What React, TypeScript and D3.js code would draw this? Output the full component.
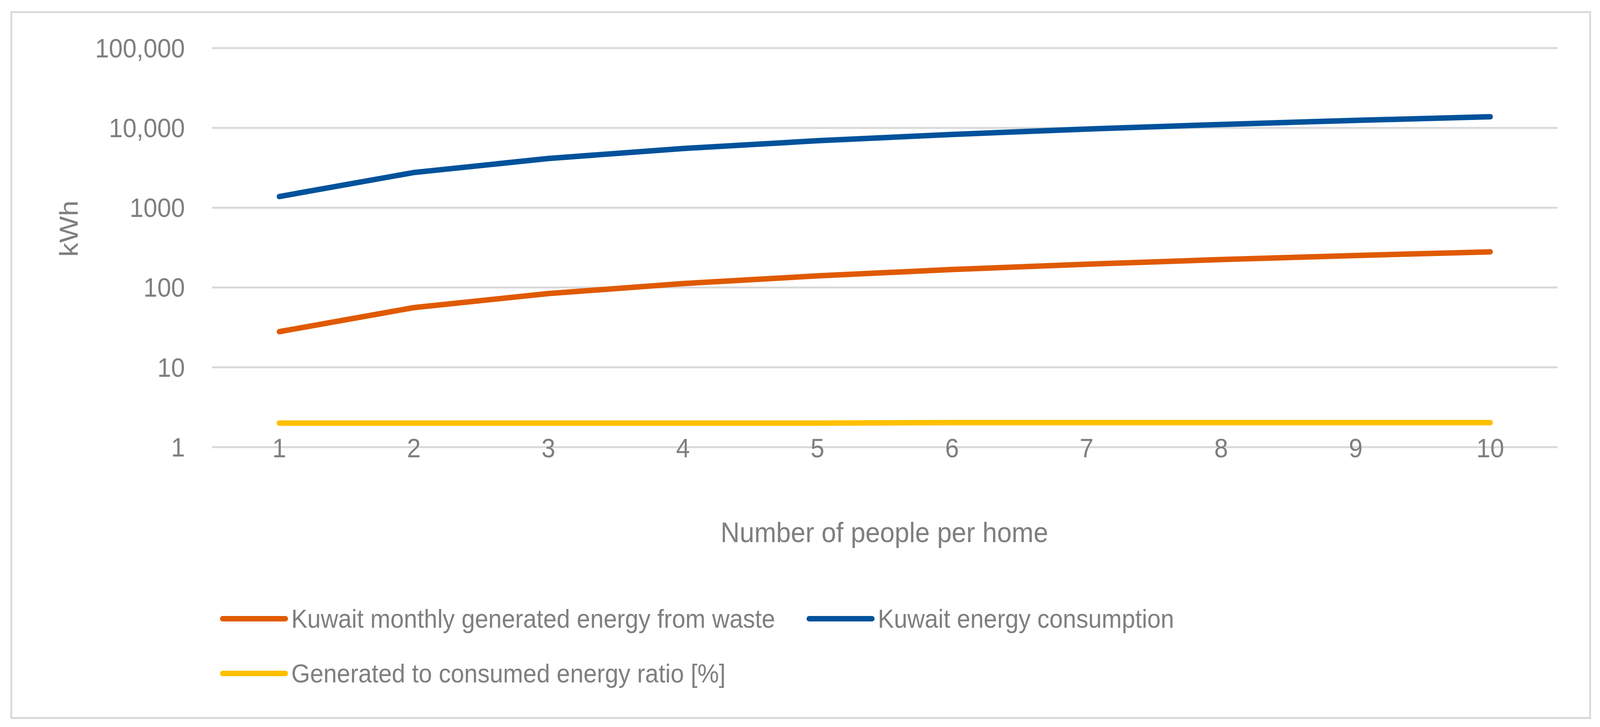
import React from "react";
import * as d3 from "d3";

const people = [1, 2, 3, 4, 5, 6, 7, 8, 9, 10];
const wasteEnergy = [28, 56, 84, 112, 140, 168, 196, 224, 252, 280];
const consumption = [1380, 2760, 4140, 5520, 6900, 8280, 9660, 11040, 12420, 13800];
const ratio = [2.0, 2.0, 2.0, 2.0, 2.0, 2.03, 2.03, 2.03, 2.03, 2.03];
const yTicks = [1, 10, 100, 1000, 10000, 100000];
const yTickLabels = ["1", "10", "100", "1000", "10,000", "100,000"];

const series = [
  { name: "Kuwait monthly generated energy from waste", values: wasteEnergy, color: "#E05A00" },
  { name: "Kuwait energy consumption", values: consumption, color: "#00529B" },
  { name: "Generated to consumed energy ratio [%]", values: ratio, color: "#FFC000" },
];

const W = 4378, H = 1860;
const font = "'Liberation Sans', Arial, sans-serif";
const textColor = "#7f7f7f";

export default function App() {
  const x = d3.scaleBand<number>().domain(people).range([580, 4262]);
  const y = d3.scaleLog().domain([1, 100000]).range([1144, 123]);
  const cx = (d: number) => (x(d) as number) + x.bandwidth() / 2;
  const line = (vals: number[]) =>
    d3.line<number>().x((_, i) => cx(people[i])).y((v) => y(v))(vals) as string;
  const legendPos = [
    { x: 609, y: 1583 },
    { x: 2214, y: 1583 },
    { x: 609, y: 1723 },
  ];
  return (
    <svg viewBox={`0 0 ${W} ${H}`} preserveAspectRatio="none"
      style={{ position: "fixed", left: 0, top: 0, width: "100vw", height: "100vh", background: "#fff" }} fontFamily={font}>
      <rect x={31} y={31} width={4320} height={1806} fill="#fff" stroke="#d9d9d9" strokeWidth={5} />
      {yTicks.map((t, i) => (
        <g key={t}>
          <line x1={580} x2={4262} y1={y(t)} y2={y(t)} stroke="#d9d9d9" strokeWidth={5} />
          <text x={506} y={y(t)} dy="0.35em" textAnchor="end" fontSize={68} fill={textColor}>{yTickLabels[i]}</text>
        </g>
      ))}
      {people.map((p) => (
        <text key={p} x={cx(p)} y={1146} dy="0.35em" textAnchor="middle" fontSize={68} fill={textColor}>{p}</text>
      ))}
      <text transform="translate(187,585) rotate(-90)" textAnchor="middle" dy="0.35em" fontSize={72} fill={textColor}>kWh</text>
      <text x={2420} y={1362} dy="0.35em" textAnchor="middle" fontSize={72} fill={textColor}>Number of people per home</text>
      {series.map((s) => (
        <path key={s.name} d={line(s.values)} fill="none" stroke={s.color} strokeWidth={14} strokeLinecap="round" strokeLinejoin="round" />
      ))}
      {series.map((s, i) => (
        <g key={s.name}>
          <line x1={legendPos[i].x} x2={legendPos[i].x + 172} y1={legendPos[i].y} y2={legendPos[i].y} stroke={s.color} strokeWidth={14} strokeLinecap="round" />
          <text x={legendPos[i].x + 188} y={legendPos[i].y} dy="0.35em" fontSize={66} fill={textColor}>{s.name}</text>
        </g>
      ))}
    </svg>
  );
}
